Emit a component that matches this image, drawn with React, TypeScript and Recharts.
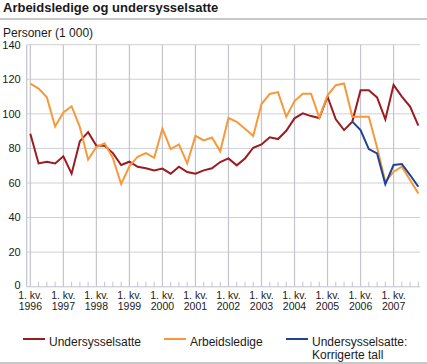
import { LineChart, Line, XAxis, YAxis, CartesianGrid, ReferenceLine } from 'recharts'

const years = [1996, 1997, 1998, 1999, 2000, 2001, 2002, 2003, 2004, 2005, 2006, 2007]

// 1000 persons, one value per quarter, 1996 Q1 - 2007 Q4
const undersysselsatte = [
  88.5, 71.3, 72.3, 71.3, 75.4, 65.4, 84.2, 89.4, 81.5, 81.5,
  77.3, 70.4, 72.3, 69.4, 68.5, 67.3, 68.3, 65.4, 69.4, 66.3,
  65.4, 67.3, 68.5, 72.1, 74.2, 70.2, 74.2, 80.4, 82.3, 86.4,
  85.4, 90.2, 97.4, 100.3, 98.7, 97.6, 109.9, 96.8, 90.6, 95.5,
  113.6, 113.6, 109.5, 96.8, 116.7, 110, 104.2, 93.2,
]

const arbeidsledige = [
  117.5, 114.6, 109.6, 92.7, 100.8, 104.4, 92.3, 73.5, 80.8, 83,
  74.4, 59.4, 69.6, 75.2, 77.3, 74.6, 91.5, 79.6, 82.3, 71.3,
  87.3, 84.6, 86.3, 78.3, 97.6, 95.4, 91.4, 87.2, 105.7, 111.5,
  112.6, 98.3, 107.4, 111.6, 111.6, 97.9, 110.7, 116.6, 117.6, 98.3,
  98.3, 98.3, 80.5, 60.7, 66.5, 69.4, 61.7, 54,
]

const korrigerte: (number | null)[] = [
  null, null, null, null, null, null, null, null, null, null,
  null, null, null, null, null, null, null, null, null, null,
  null, null, null, null, null, null, null, null, null, null,
  null, null, null, null, null, null, null, null, null, 95.5,
  90.6, 79.6, 77.1, 59.3, 70.4, 71, 64.6, 57.8,
]

const yTicks = [0, 20, 40, 60, 80, 100, 120, 140]

const data = undersysselsatte.map((v, i) => ({
  q: i,
  undersysselsatte: v,
  arbeidsledige: arbeidsledige[i],
  korrigerte: korrigerte[i],
}))

const quarterTicks = data.map((d) => d.q)
const yearTicks = years.map((_, k) => k * 4)
const xDomain = [-0.44, 47.2]

const RED = '#9b1b1f'
const ORANGE = '#f7993a'
const BLUE = '#1f4196'
const GRID = '#cfcfd8'
const VGRID = '#c4c4ce'
const TEXT = '#1a1a1a'
const FONT = '"Liberation Sans", Arial, sans-serif'

function QuarterTick(props: any) {
  const { x, y, payload } = props
  const i = payload.value as number
  if (i % 4 !== 0) {
    return <path d={`M${x},${y}V${y - 5}`} stroke={VGRID} strokeWidth={1} fill="none" />
  }
  return (
    <text x={x} y={y} textAnchor="middle" fontSize={10.5} fill={TEXT} fontFamily={FONT}>
      <tspan x={x} dy={12.5}>1. kv.</tspan>
      <tspan x={x} dy={11}>{years[i / 4]}</tspan>
    </text>
  )
}

function ValueTick(props: any) {
  const { x, y, payload } = props
  // the zero label sits a little higher than the others
  const shift = payload.value === 0 ? -2 : 0
  return (
    <text x={x} y={y + shift} dy="0.355em" textAnchor="end" fontSize={11} fill={TEXT} fontFamily={FONT}>
      {payload.value}
    </text>
  )
}

function LegendItem({ color, left, lines }: { color: string; left: number; lines: string[] }) {
  return (
    <div style={{ position: 'absolute', left, top: 336, display: 'flex', alignItems: 'flex-start' }}>
      <div style={{ width: 22, height: 2, background: color, marginTop: 2, marginRight: 4 }} />
      <div style={{ fontSize: 12, lineHeight: '12.5px', whiteSpace: 'nowrap' }}>
        {lines.map((l) => <div key={l}>{l}</div>)}
      </div>
    </div>
  )
}

export default function App() {
  return (
    <div style={{ position: 'absolute', left: 0, top: 0, width: 427, height: 364, background: '#fff', fontFamily: FONT, color: TEXT }}>
      <div style={{ position: 'absolute', left: 3, top: 0, fontSize: 13, lineHeight: '15px', fontWeight: 'bold' }}>
        Arbeidsledige og undersysselsatte
      </div>
      <div style={{ position: 'absolute', left: 0, top: 18, width: 427, height: 2, background: '#c8c8c8' }} />
      <div style={{ position: 'absolute', left: 3, top: 26, fontSize: 12, lineHeight: '14px' }}>Personer (1 000)</div>

      <div style={{ position: 'absolute', left: 0, top: 0 }}>
        <LineChart width={427} height={364} data={data} margin={{ top: 44.7, right: 7, bottom: 0, left: 0 }}>
          <CartesianGrid stroke={GRID} strokeWidth={1} vertical={false} />
          {yearTicks.map((v) => (
            <ReferenceLine key={v} x={v} stroke={VGRID} strokeWidth={1.2} ifOverflow="visible" />
          ))}
          <XAxis
            dataKey="q"
            type="number"
            domain={xDomain}
            allowDataOverflow
            ticks={quarterTicks}
            interval={0}
            height={77.3}
            tickSize={0}
            tickMargin={0}
            tickLine={false}
            axisLine={{ stroke: GRID }}
            tick={<QuarterTick />}
          />
          <YAxis
            domain={[0, 140]}
            ticks={yTicks}
            width={26.7}
            tickSize={0}
            tickMargin={6}
            tickLine={false}
            axisLine={{ stroke: VGRID, strokeWidth: 1.2 }}
            tick={<ValueTick />}
          />
          <Line dataKey="undersysselsatte" stroke={RED} strokeWidth={2} dot={false} isAnimationActive={false} />
          <Line dataKey="arbeidsledige" stroke={ORANGE} strokeWidth={2} dot={false} isAnimationActive={false} />
          <Line dataKey="korrigerte" stroke={BLUE} strokeWidth={2} dot={false} isAnimationActive={false} />
        </LineChart>
      </div>

      <LegendItem color={RED} left={23} lines={['Undersysselsatte']} />
      <LegendItem color={ORANGE} left={164} lines={['Arbeidsledige']} />
      <LegendItem color={BLUE} left={286} lines={['Undersysselsatte:', 'Korrigerte tall']} />
      <div style={{ position: 'absolute', left: 0, top: 362, width: 427, height: 2, background: '#c8c8c8' }} />
    </div>
  )
}
